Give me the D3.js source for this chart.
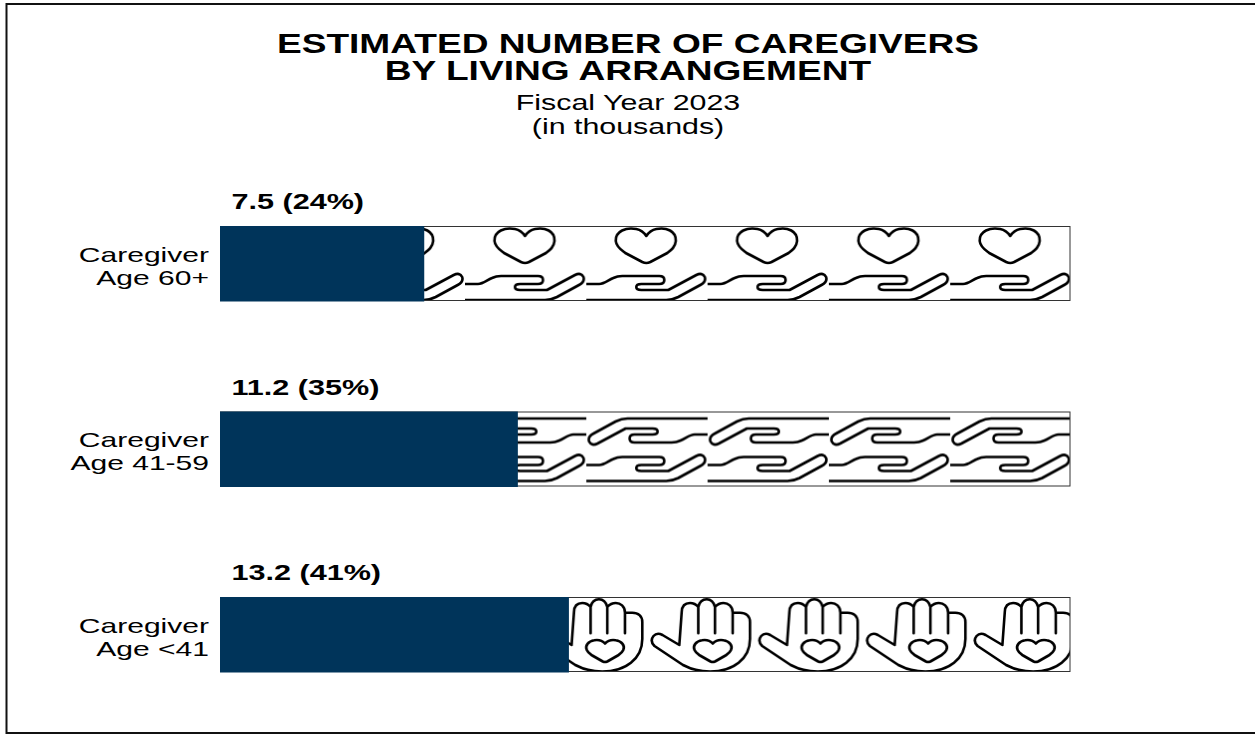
<!DOCTYPE html>
<html><head><meta charset="utf-8">
<script src="https://cdn.jsdelivr.net/npm/d3@7/dist/d3.min.js"></script>
<style>html,body{margin:0;padding:0;background:#fff;overflow:hidden}svg{display:block}text{font-family:"Liberation Sans",Arial,sans-serif;fill:#000}</style>
</head><body><div id="c"></div>
<script>
const titleLines = ["ESTIMATED NUMBER OF CAREGIVERS", "BY LIVING ARRANGEMENT"];
const subtitleLines = ["Fiscal Year 2023", "(in thousands)"];
const categories = ["Caregiver Age 60+", "Caregiver Age 41-59", "Caregiver Age <41"];
const categoryLines = [["Caregiver", "Age 60+"], ["Caregiver", "Age 41-59"], ["Caregiver", "Age <41"]];
const values = [7.5, 11.2, 13.2];
const shares = [24, 35, 41];
const barColor = "#00345a";

const W = 1255, H = 734;
const svg = d3.select("#c").append("svg").attr("width", W).attr("height", H);
svg.append("rect").attr("x", 6.5).attr("y", 4).attr("width", W).attr("height", 729)
  .attr("fill", "#fff").attr("stroke", "#111").attr("stroke-width", 2);

const x = d3.scaleLinear().domain([0, 100]).range([220, 1071]);
const y = d3.scaleBand().domain(categories).range([226, 672]).paddingInner(110.5 / 185.5);

const heart = "M29.5,15 C29,5 40,1 50,3 C55,4 58,7 60,10 C62,7 65,4 70,3 C80,1 90,5 89.5,15 C89,21 85,24 81,27 L64,36 Q60,38 56,36 L39,27 C35,24 30,21 29.5,15 Z";
const openHand = "M0,58 H13 C18,58 22,54 27,52 C30,50.5 32,50 36,50 H73 Q78,50 78,54 Q78,58 73,58 H55 Q50,58 50,61 Q50,64 55,64 H82 L110,49 Q116,46 118.5,51 Q120,56 114,59 L92,71 Q86,74 80,74 H0";
const palmHand = "M31.3,48 L14.5,38 Q9,35 5.5,39 Q1.5,44 6.5,49 L35,68 Q47,74.5 62,74.5 C85,74.5 102,62 102,42 V25 C102,19 98,15.7 92,15.7 H84.7 V36.3 M84.7,15.7 C84.7,9 80,6 75.5,6 Q70.5,6 67,10 V36.3 M67,10 Q65,2.3 58.7,2.3 Q52,2.3 50.3,10 V36.3 M50.3,10 Q47,6 42,6 Q34,6 33.7,15 L31.3,48";
const palmHeart = "M63.7,46.5 C61,43.5 57,42.5 53,43.2 C47,44 43.5,49 45.5,53 C46.5,55.5 49,57 51,58.5 L61.5,64.5 Q63.7,65.5 66,64.5 L76.5,58.5 C78.5,57 81,55.5 82,53 C84,49 80.5,44 74.5,43.2 C70.5,42.5 66.5,43.5 63.7,46.5 Z";

const defs = svg.append("defs");
function tile(id, width, originX, originY, draw) {
  const p = defs.append("pattern").attr("id", id).attr("patternUnits", "userSpaceOnUse")
    .attr("x", originX).attr("y", originY).attr("width", width).attr("height", y.bandwidth());
  const g = p.append("g").attr("fill", "none").attr("stroke", "#000").attr("stroke-width", 2.6)
    .attr("stroke-linecap", "round").attr("stroke-linejoin", "round");
  draw(g);
}
const tops = categories.map(c => y(c));
tile("p0", 121.3, 465, tops[0], g => {
  g.append("path").attr("d", heart);
  g.append("path").attr("d", openHand);
});
tile("p1", 121.3, 465, tops[1], g => {
  g.append("path").attr("d", openHand).attr("transform", "translate(0,-4.5)");
  g.append("path").attr("d", openHand).attr("transform", "translate(121.3,81) rotate(180)");
});
tile("p2", 107.7, 648, tops[2], g => {
  g.append("path").attr("d", palmHand);
  g.append("path").attr("d", palmHeart).attr("transform", "translate(1,0)");
});

// the reference's text is wider than the font's natural proportions
function stretched(sel, px, py, sx) {
  return sel.attr("transform", (d, i) => `translate(${px(d, i)},${py(d, i)}) scale(${sx},1)`);
}

const row = svg.selectAll("g.row").data(categories).join("g").attr("class", "row");
row.append("rect").attr("x", x(0)).attr("y", d => y(d)).attr("width", x(100) - x(0) - 1).attr("height", y.bandwidth())
  .attr("fill", (d, i) => `url(#p${i})`);
row.append("rect").attr("x", x(0) + .5).attr("y", d => y(d) + .5).attr("width", x(100) - x(0) - 1.5).attr("height", y.bandwidth() - 1)
  .attr("fill", "none").attr("stroke", "#333").attr("stroke-width", 1);
row.append("rect").attr("x", x(0)).attr("y", d => y(d)).attr("width", (d, i) => x(shares[i]) - x(0)).attr("height", y.bandwidth() + .5)
  .attr("fill", barColor);
stretched(row.append("text").attr("font-size", 22).attr("font-weight", 700)
  .text((d, i) => `${values[i]} (${shares[i]}%)`), () => 231.5, d => y(d) - 17, 1.39);
row.each(function (d, i) {
  const g = d3.select(this);
  categoryLines[i].forEach((s, k) => {
    stretched(g.append("text").attr("text-anchor", "end").attr("font-size", 21).text(s),
      () => 209, () => y(d) + 35.5 + k * 23, 1.43);
  });
});

stretched(svg.selectAll("text.t").data(titleLines).join("text").attr("class", "t")
  .attr("text-anchor", "middle").attr("font-size", 27).attr("font-weight", 700).text(d => d),
  () => 628, (d, i) => 52.5 + i * 27.5, 1.375);
stretched(svg.selectAll("text.s").data(subtitleLines).join("text").attr("class", "s")
  .attr("text-anchor", "middle").attr("font-size", 22.5).text(d => d),
  () => 628, (d, i) => 110 + i * 23.5, 1.35);
</script></body></html>
